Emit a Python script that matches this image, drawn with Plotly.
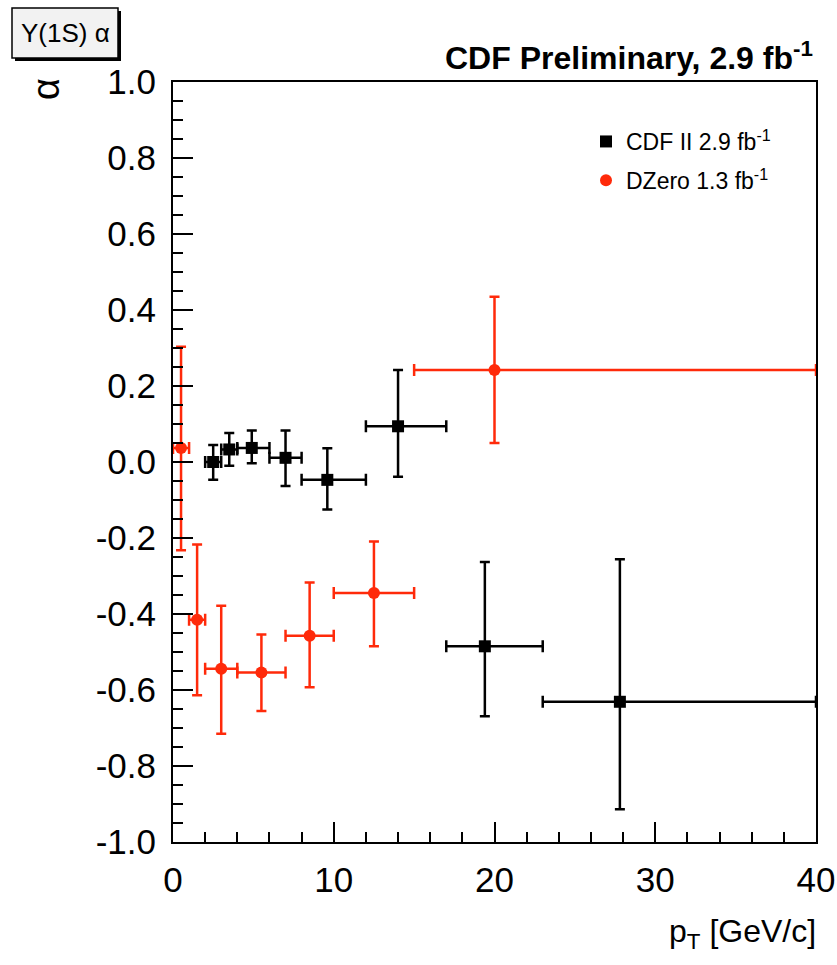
import plotly.graph_objects as go

# ---- data ----
cdf_pt = [2.5, 3.5, 4.9, 7.0, 9.6, 14.0, 19.4, 27.8]
cdf_alpha = [0.0, 0.033, 0.037, 0.011, -0.047, 0.094, -0.485, -0.631]
cdf_xlo = [0.5, 0.5, 0.9, 1.0, 1.6, 2.0, 2.4, 4.8]
cdf_xhi = [0.5, 0.5, 1.1, 1.0, 2.4, 3.0, 3.6, 12.2]
cdf_eyp = [0.045, 0.043, 0.046, 0.072, 0.083, 0.148, 0.222, 0.375]
cdf_eym = [0.047, 0.043, 0.040, 0.074, 0.078, 0.133, 0.184, 0.283]

dz_pt = [0.5, 1.5, 3.0, 5.5, 8.5, 12.5, 20.0]
dz_alpha = [0.037, -0.415, -0.544, -0.554, -0.457, -0.345, 0.242]
dz_xlo = [0.5, 0.5, 1.0, 1.5, 1.5, 2.5, 5.0]
dz_xhi = [0.5, 0.5, 1.0, 1.5, 1.5, 2.5, 20.0]
dz_eyp = [0.266, 0.198, 0.166, 0.100, 0.140, 0.136, 0.193]
dz_eym = [0.269, 0.199, 0.171, 0.101, 0.136, 0.140, 0.192]

y_ticks = [-1.0, -0.8, -0.6, -0.4, -0.2, 0.0, 0.2, 0.4, 0.6, 0.8, 1.0]
x_ticks = [0, 10, 20, 30, 40]

W, H = 837, 965
# plot frame in screen pixels
FX0, FX1, FY0, FY1 = 173, 816, 82, 842
L, R, T, B = FX0, W - FX1, FY0, H - FY1
RED = "#ff2a0a"
FONT = "Liberation Sans, Arial, Helvetica, sans-serif"


def px(xs):
    return (xs - FX0) / (FX1 - FX0)


def py(ys):
    return (FY1 - ys) / (FY1 - FY0)


fig = go.Figure()

fig.add_trace(go.Scatter(
    x=cdf_pt, y=cdf_alpha, mode="markers", name="CDF II 2.9 fb<sup>-1</sup>",
    legendgroup="cdf",
    marker=dict(symbol="square", size=12, color="black"),
    error_x=dict(type="data", symmetric=False, array=cdf_xhi, arrayminus=cdf_xlo,
                 color="black", thickness=2.5, width=6),
    error_y=dict(type="data", symmetric=False, array=cdf_eyp, arrayminus=cdf_eym,
                 color="black", thickness=2.5, width=5),
))
fig.add_trace(go.Scatter(
    x=dz_pt, y=dz_alpha, mode="markers", name="DZero 1.3 fb<sup>-1</sup>",
    legendgroup="dz",
    marker=dict(symbol="circle", size=12, color=RED),
    error_x=dict(type="data", symmetric=False, array=dz_xhi, arrayminus=dz_xlo,
                 color=RED, thickness=2.5, width=6),
    error_y=dict(type="data", symmetric=False, array=dz_eyp, arrayminus=dz_eym,
                 color=RED, thickness=2.5, width=5),
))

axis_common = dict(showgrid=False, zeroline=False, showline=True, linecolor="black",
                   linewidth=2, mirror=True, ticks="inside", tickcolor="black",
                   tickwidth=2, ticklen=20, automargin=False,
                   ticklabeloverflow="allow",
                   tickfont=dict(family=FONT, size=35, color="black"))

fig.update_xaxes(range=[0, 40], tickvals=x_ticks, ticktext=[str(v) for v in x_ticks],
                 minor=dict(ticks="inside", dtick=2, ticklen=10, tickwidth=2,
                            tickcolor="black"),
                 ticklabelstandoff=6, **axis_common)
fig.update_yaxes(range=[-1.0, 1.0], tickvals=y_ticks,
                 ticktext=[f"{v:.1f}" for v in y_ticks],
                 minor=dict(ticks="inside", dtick=0.05, ticklen=10, tickwidth=2,
                            tickcolor="black"),
                 ticklabelstandoff=8, **axis_common)

# Title
fig.add_annotation(text="<b>CDF Preliminary, 2.9 fb<sup>-1</sup></b>", xref="paper", yref="paper",
                   x=px(815), y=py(56), xanchor="right", yanchor="middle", showarrow=False,
                   font=dict(family=FONT, size=32, color="black"))
# Axis titles
fig.add_annotation(text="p<sub>T</sub> [GeV/c]", xref="paper", yref="paper",
                   x=px(818), y=py(933), xanchor="right", yanchor="middle", showarrow=False,
                   font=dict(family=FONT, size=32, color="black"))
fig.add_annotation(text="α", xref="paper", yref="paper", textangle=-90,
                   x=px(46), y=py(89), xanchor="center", yanchor="middle", showarrow=False,
                   font=dict(family=FONT, size=38, color="black"))

# Top-left label box with shadow
fig.add_shape(type="rect", xref="paper", yref="paper", x0=px(15), x1=px(121), y0=py(61), y1=py(11),
              fillcolor="black", line=dict(width=0), layer="above")
fig.add_shape(type="rect", xref="paper", yref="paper", x0=px(12), x1=px(118), y0=py(58), y1=py(8),
              fillcolor="#f2f2f2", line=dict(color="black", width=1.5), layer="above")
fig.add_annotation(text="Υ(1S) α", xref="paper", yref="paper",
                   x=px(65), y=py(33), xanchor="center", yanchor="middle", showarrow=False,
                   font=dict(family=FONT, size=26, color="black"))

fig.update_layout(
    width=W, height=H,
    margin=dict(l=L, r=R, t=T, b=B, autoexpand=False),
    paper_bgcolor="white", plot_bgcolor="white",
    showlegend=True,
    hovermode=False,
    legend=dict(x=px(586), y=py(120), xanchor="left", yanchor="top",
                bgcolor="rgba(0,0,0,0)", font=dict(family=FONT, size=23, color="black"),
                itemwidth=30, tracegroupgap=6),
)

fig.write_html("out.html",
               config={"displayModeBar": False},
               post_script="document.body.style.margin='0';document.body.style.overflow='hidden';")
